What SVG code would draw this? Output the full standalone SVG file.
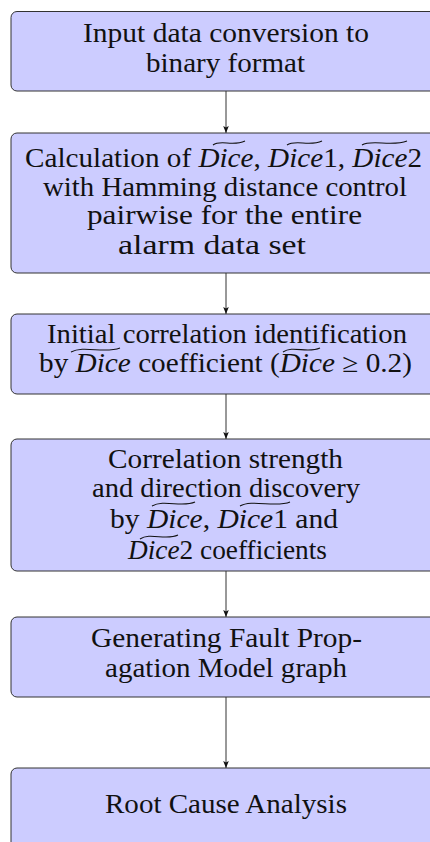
<svg xmlns="http://www.w3.org/2000/svg" width="430" height="842" viewBox="0 0 430 842">
<style>
.box{fill:#ccccff;stroke:#333;stroke-width:1}
.t{font-family:"Liberation Serif","Times New Roman",serif;font-size:26.5px;fill:#111}
.i{font-style:italic}
.tilde{fill:none;stroke:#111;stroke-width:1.1}
.conn{stroke:#333;stroke-width:1;fill:none;marker-end:url(#ah)}
</style>
<defs>
<marker id="ah" viewBox="0 0 10 10" refX="10" refY="5" markerWidth="7" markerHeight="7" markerUnits="userSpaceOnUse" orient="auto">
<path d="M0,1 L10,5 L0,9 L2,5 z" fill="#111"/>
</marker>
</defs>
<g id="connectors">
<line class="conn" x1="226" y1="91" x2="226" y2="133"/>
<line class="conn" x1="226" y1="273" x2="226" y2="314"/>
<line class="conn" x1="226" y1="394" x2="226" y2="439"/>
<line class="conn" x1="226" y1="571" x2="226" y2="617"/>
<line class="conn" x1="226" y1="697" x2="226" y2="768"/>
</g>
<g id="n1">
<rect class="box" x="11" y="11.5" width="430" height="79.5" rx="6"/>
<text class="t" x="83" y="42" textLength="286" lengthAdjust="spacingAndGlyphs">Input data conversion to</text>
<text class="t" x="146" y="72" textLength="159" lengthAdjust="spacingAndGlyphs">binary format</text>
</g>
<g id="n2">
<rect class="box" x="11" y="133" width="430" height="140" rx="6"/>
<text class="t" x="25" y="167" textLength="397" lengthAdjust="spacingAndGlyphs">Calculation of <tspan class="i">Dice</tspan>, <tspan class="i">Dice</tspan>1, <tspan class="i">Dice</tspan>2</text>
<path class="tilde" d="M213,145 C221,139 232,147 245,141"/>
<path class="tilde" d="M287,145 C296,139 309,147 322,141"/>
<path class="tilde" d="M362,145 C371,139 392,147 407,141"/>
<text class="t" x="43" y="196" textLength="364" lengthAdjust="spacingAndGlyphs">with Hamming distance control</text>
<text class="t" x="87" y="224" textLength="275" lengthAdjust="spacingAndGlyphs">pairwise for the entire</text>
<text class="t" x="118" y="254" textLength="188" lengthAdjust="spacingAndGlyphs">alarm data set</text>
</g>
<g id="n3">
<rect class="box" x="11" y="314" width="430" height="80" rx="6"/>
<text class="t" x="47" y="343" textLength="360" lengthAdjust="spacingAndGlyphs">Initial correlation identification</text>
<path class="tilde" d="M71,352 C84,345 104,354 120,348"/>
<path class="tilde" d="M283,352 C293,345 307,354 320,348"/>
<text class="t" x="39" y="372" textLength="373" lengthAdjust="spacingAndGlyphs">by <tspan class="i">Dice</tspan> coefficient (<tspan class="i">Dice</tspan> ≥ 0.2)</text>
</g>
<g id="n4">
<rect class="box" x="11" y="439" width="430" height="132" rx="6"/>
<text class="t" x="108" y="468" textLength="235" lengthAdjust="spacingAndGlyphs">Correlation strength</text>
<text class="t" x="92" y="497" textLength="268" lengthAdjust="spacingAndGlyphs">and direction discovery</text>
<path class="tilde" d="M152,506 C164,499 182,508 195,502"/>
<path class="tilde" d="M240,506 C252,499 276,508 290,502"/>
<text class="t" x="110" y="528" textLength="228" lengthAdjust="spacingAndGlyphs">by <tspan class="i">Dice</tspan>, <tspan class="i">Dice</tspan>1 and</text>
<path class="tilde" d="M140,539 C150,532 166,541 178,535"/>
<text class="t" x="128" y="559" textLength="199" lengthAdjust="spacingAndGlyphs"><tspan class="i">Dice</tspan>2 coefficients</text>
</g>
<g id="n5">
<rect class="box" x="11" y="617" width="430" height="80" rx="6"/>
<text class="t" x="91" y="647" textLength="271" lengthAdjust="spacingAndGlyphs">Generating Fault Prop-</text>
<text class="t" x="105" y="677" textLength="242" lengthAdjust="spacingAndGlyphs">agation Model graph</text>
</g>
<g id="n6">
<rect class="box" x="11" y="768" width="430" height="100" rx="6"/>
<text class="t" x="105" y="813" textLength="242" lengthAdjust="spacingAndGlyphs">Root Cause Analysis</text>
</g>
</svg>
